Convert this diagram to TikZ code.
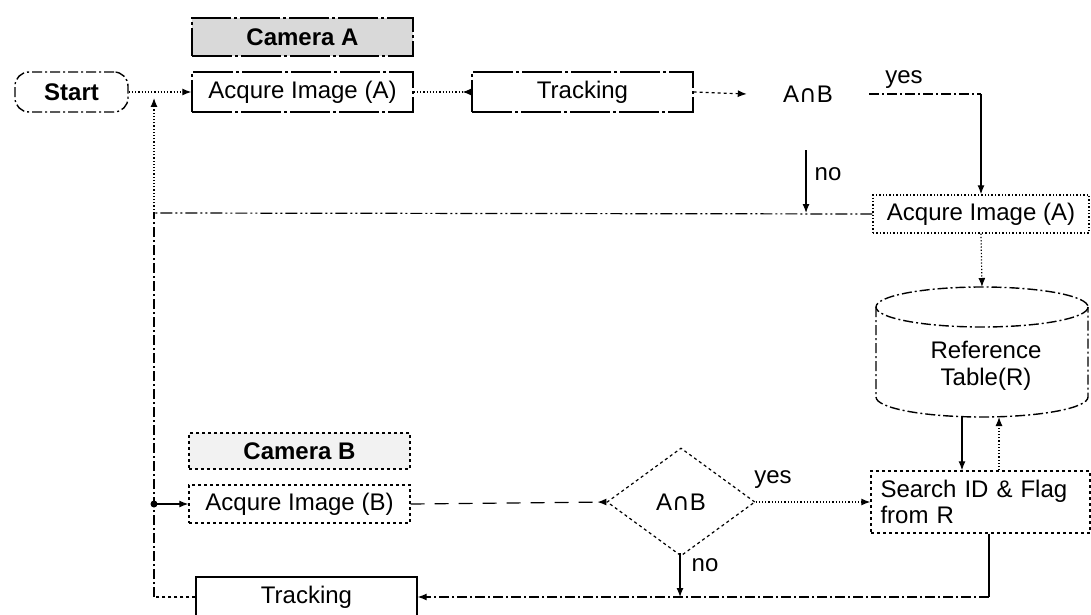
\documentclass[tikz,border=0pt]{standalone}
\usepackage{fontspec}
\setmainfont{Liberation Sans}
\newfontfamily\djv{DejaVu Sans}
\usetikzlibrary{arrows.meta,shapes.geometric}
\begin{document}
\begin{tikzpicture}[x=1pt,y=-1pt,font=\fontsize{24}{27}\selectfont]
\tikzset{
  box/.style={draw, line width=1.4pt, inner sep=0pt, minimum height=40pt},
  conn/.style={line width=1.2pt},
  tip/.style={-{Latex[length=9pt,width=7pt]}},
  rtip/.style={-{Latex[length=9pt,width=7pt,reversed]}},
  dashdot/.style={dash pattern=on 10pt off 3pt on 2pt off 3pt},
  dashdotdot/.style={dash pattern=on 12pt off 3pt on 2pt off 3pt on 2pt off 3pt},
  loosedash/.style={dash pattern=on 14pt off 10pt},
  brk/.style={dash pattern=on 40pt off 3pt on 3pt off 3pt},
}
\useasboundingbox (0,0) rectangle (1091,615);
\clip (0,0) rectangle (1091,615);

% top row
\node[box, dashdot, rounded corners=14pt, minimum width=113pt, font=\fontsize{24}{27}\selectfont\bfseries] (start) at (71.5,92) {Start};
\node[box, brk, fill=gray!30, minimum width=221pt, minimum height=38pt, font=\fontsize{24}{27}\selectfont\bfseries] (camA) at (302.5,37) {Camera A};
\node[box, brk, minimum width=221pt] (acqA) at (302.5,92) {Acqure Image (A)};
\node[box, brk, minimum width=221pt] (trkA) at (582.5,92) {Tracking};
\node[inner sep=0pt, minimum width=122pt, minimum height=30pt] (anbA) at (808,94) {A{\djv ∩}B};
\node[inner sep=1pt] (yesA) at (904,80) {yes};
\node[box, dotted, minimum width=216pt, minimum height=38pt] (acqA2) at (981,214) {Acqure Image (A)};
\node[inner sep=1pt] (noA) at (828,174) {no};

\coordinate (jTop) at (154,92);
\coordinate (jMid) at (154,213);
\coordinate (jB) at (154,504);
\coordinate (jBot) at (154,597);
\coordinate (nA0) at (806,150);
\coordinate (nA) at (806,213);

\draw[conn, dotted, tip] (start.east) -- (acqA.west);
\draw[conn, dotted, rtip] (acqA.east) -- (trkA.west);
\draw[conn, dashed, tip] (trkA.east) -- (anbA.west);
\draw[conn, dashdot] (anbA.east) -- (anbA.east -| acqA2.north);
\draw[conn, tip] (anbA.east -| acqA2.north) -- (acqA2.north);
\draw[conn, tip] (nA0) -- (nA);
\draw[conn, dashdotdot] (acqA2.west) -- (jMid);
\draw[conn, dotted, tip, shorten >=6pt] (jMid) -- (jTop);

% cylinder
\coordinate (cylT) at (982,287);
\coordinate (cB1) at (962,417);
\coordinate (cB2) at (999,417);
\draw[line width=1.4pt, dashdot] (876,307) -- (876,397) arc[start angle=180, end angle=0, x radius=106, y radius=20] -- (1088,307);
\draw[line width=1.4pt, dashdot] (982,307) ellipse [x radius=106, y radius=20];
\node[align=center, inner sep=0pt] (reft) at (986,366) {Reference\\Table(R)};
\draw[conn, dotted, tip] (acqA2.south) -- (cylT);

\node[box, dashed, minimum width=219pt, minimum height=62pt, text width=200pt, align=left, font=\fontsize{24}{26}\selectfont] (search) at (980.5,502) {Search ID \& Flag\\from R};
\draw[conn, tip] (cB1) -- (search.north -| cB1);
\draw[conn, dotted, tip] (search.north -| cB2) -- (cB2);

% bottom part
\node[box, dashed, fill=gray!10, minimum width=221pt, minimum height=36pt, font=\fontsize{24}{27}\selectfont\bfseries] (camB) at (299.5,451) {Camera B};
\node[box, dashed, minimum width=221pt, minimum height=38pt] (acqB) at (299.5,504) {Acqure Image (B)};
\node[draw, diamond, dashed, line width=1.2pt, shape aspect=1.37, minimum width=148pt, minimum height=108pt, inner sep=0pt] (dia) at (681,502) {A{\djv ∩}B};
\node[inner sep=1pt] (yesB) at (773,480) {yes};
\node[inner sep=1pt] (noB) at (705,565) {no};
\node[box, minimum width=221pt] (trkB) at (306.5,597) {Tracking};

\coordinate (nB0) at (680,553);
\coordinate (nB) at (680,597);
\coordinate (sx) at (989,597);

\fill (jB) circle[radius=3.5pt];
\draw[conn, tip] (jB) -- (acqB.west);
\draw[conn, loosedash, rtip] (acqB.east) -- (dia.west);
\draw[conn, dotted, tip] (dia.east) -- (search.west);
\draw[conn, tip] (nB0) -- (nB);
\draw[conn] (search.south -| sx) -- (sx);
\draw[conn, dashdot, tip] (sx) -- (trkB.east);
\draw[conn, dashed] (trkB.west) -- (jBot);
\draw[conn, dashdot] (jBot) -- (jB) -- (jMid);
\end{tikzpicture}
\end{document}
